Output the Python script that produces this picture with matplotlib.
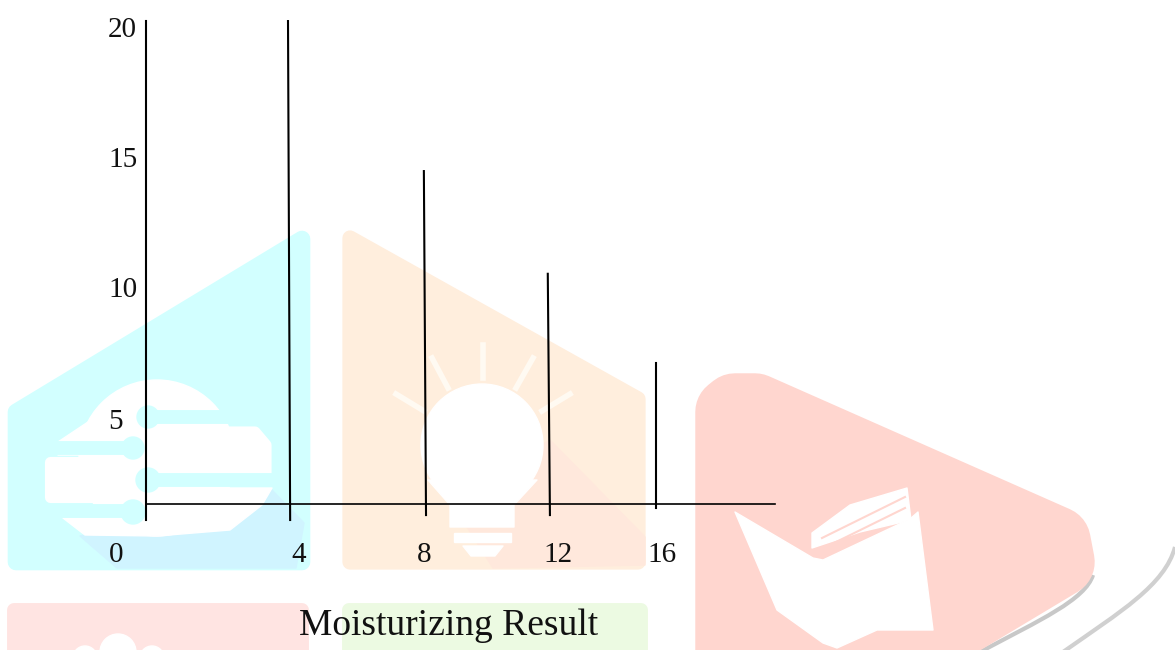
import matplotlib
matplotlib.use('Agg')
import matplotlib.pyplot as plt
from matplotlib.patches import Polygon, Circle, Rectangle, PathPatch
from matplotlib.path import Path

# values
x_vals = [4, 8.43, 12.47, 16]
tops = [20.27, 14.5, 10.55, 7.1]
bottoms = [1.08, 1.27, 1.27, 1.54]
x_slant = [0.07, 0.07, 0.07, 0.0]
y_labels = ['5', '10', '15', '20']
y_label_vals = [4.85, 9.92, 14.92, 19.92]
x_labels = ['0', '4', '8', '12', '16']
x_label_vals = [-1.6, 4.35, 8.45, 12.8, 16.2]
axis_x = -0.62
axis_bottom = 1.08
axis_top = 20.27
base_y = 1.69
base_end = 19.88
title = 'Moisturizing Result'

plt.rcParams['font.family'] = ['Liberation Serif', 'DejaVu Serif']

fig = plt.figure(figsize=(11.75, 6.5), dpi=100)

# watermark behind the chart, in pixels
bg = fig.add_axes([0, 0, 1, 1])
bg.set_xlim(0, 1175)
bg.set_ylim(650, 0)
bg.axis('off')


def shape(pts, color, lw=14):
    bg.add_patch(Polygon(pts, closed=True, facecolor=color, edgecolor=color,
                         linewidth=lw, joinstyle='round'))


def curve(pts, color, lw):
    codes = [Path.MOVETO] + [Path.CURVE4] * (len(pts) - 1)
    bg.add_patch(PathPatch(Path(pts, codes), facecolor='none', edgecolor=color, linewidth=lw))


CYAN = '#d2ffff'
ORANGE = '#ffeedd'
PINK = '#ffe4e2'
GREEN = '#ecfae2'
SALMON = '#ffd6cf'
WHITE = 'white'

# cyan tile
shape([(16, 412), (302, 239), (302, 562), (16, 562)], CYAN, 12)
shape([(80, 536), (117, 568), (296, 568), (304, 523), (272, 490)], '#d0f4ff', 1)

# burger
bg.add_patch(Circle((157, 458), 78, color=WHITE))
shape([(58, 442), (88, 422), (135, 420), (135, 455), (58, 455)], WHITE, 1)
shape([(150, 432), (255, 432), (266, 445), (266, 473), (150, 473)], WHITE, 8)
shape([(50, 462), (135, 462), (135, 497), (50, 497)], WHITE, 8)
shape([(63, 518), (135, 518), (150, 488), (272, 488), (262, 505), (230, 530),
       (157, 536), (85, 535)], WHITE, 1)
for (a, b, c) in [(148, 235, 417), (50, 133, 448), (148, 275, 480), (50, 133, 511)]:
    bg.plot([a, b], [c, c], color=CYAN, lw=10)
bg.add_patch(Circle((148, 417), 11, color=CYAN))
bg.add_patch(Circle((133, 448), 11, color=CYAN))
bg.add_patch(Circle((148, 480), 12, color=CYAN))
bg.add_patch(Circle((133, 512), 12, color=CYAN))

# orange tile
shape([(350, 238), (638, 399), (638, 562), (350, 562)], ORANGE, 11)
shape([(550, 440), (645, 537), (645, 565), (493, 568), (450, 500)], '#ffe8dc', 1)
bg.add_patch(Circle((482, 445), 61, color=WHITE))
shape([(428, 480), (537, 480), (514, 505), (514, 527), (450, 527), (450, 505)], WHITE, 1)
bg.add_patch(Rectangle((454, 533), 57, 9, color=WHITE))
shape([(463, 546), (503, 546), (495, 556), (471, 556)], WHITE, 1)
for seg in [((483, 345), (483, 378)), ((432, 358), (448, 388)), ((533, 358), (516, 388)),
            ((396, 394), (424, 411)), ((570, 394), (542, 411))]:
    bg.plot([seg[0][0], seg[1][0]], [seg[0][1], seg[1][1]], color='#fffaf2', lw=4)

# lower tiles
shape([(14, 610), (302, 610), (302, 660), (14, 660)], PINK, 10)
shape([(349, 610), (641, 610), (641, 660), (349, 660)], GREEN, 10)
bg.add_patch(Circle((118, 652), 18, color=WHITE))
bg.add_patch(Circle((85, 658), 12, color=WHITE))
bg.add_patch(Circle((152, 658), 12, color=WHITE))

# grey swooshes and big red tile
curve([(1175, 547), (1165, 585), (1120, 612), (1063, 652)], '#d0d0d0', 3)
curve([(1093, 575), (1085, 600), (1040, 620), (980, 652)], '#c8c8c8', 3)
shape([(730, 412), (735, 408), (755, 408), (1056, 541), (1060, 562), (930, 640), (900, 680),
       (730, 680)], SALMON, 50)
shape([(735, 512), (813, 558), (823, 560), (910, 519), (918, 512), (933, 630), (877, 630),
       (837, 648), (823, 643), (777, 610)], WHITE, 1)
shape([(812, 548), (812, 533), (850, 505), (907, 488), (911, 520), (860, 532)], WHITE, 1)
for seg in [((822, 538), (905, 497)), ((830, 545), (905, 508))]:
    bg.plot([seg[0][0], seg[1][0]], [seg[0][1], seg[1][1]], color='#ffd6cf', lw=1.5)

# chart on top, same frame as the figure
ax = fig.add_axes([0, 0, 1, 1], facecolor='none')
ax.set_xlim(-5.39, 32.92)
ax.set_ylim(-3.92, 21.08)
ax.axis('off')

ax.plot([axis_x, axis_x], [axis_bottom, axis_top], color='black', lw=1.5)
ax.plot([axis_x, base_end], [base_y, base_y], color='black', lw=1.2)
for x, top, bot, s in zip(x_vals, tops, bottoms, x_slant):
    ax.plot([x, x + s], [top, bot], color='black', lw=1.5)

for lab, v in zip(y_labels, y_label_vals):
    ax.text(-1.87, v, lab, fontsize=21, ha='left', va='center', color='#111111')
for lab, v in zip(x_labels, x_label_vals):
    ax.text(v, -0.27, lab, fontsize=21, ha='center', va='center', color='#111111')
ax.text(9.22, -2.97, title, fontsize=27, ha='center', va='center', color='#111111')

fig.savefig('out.png', dpi=100)
